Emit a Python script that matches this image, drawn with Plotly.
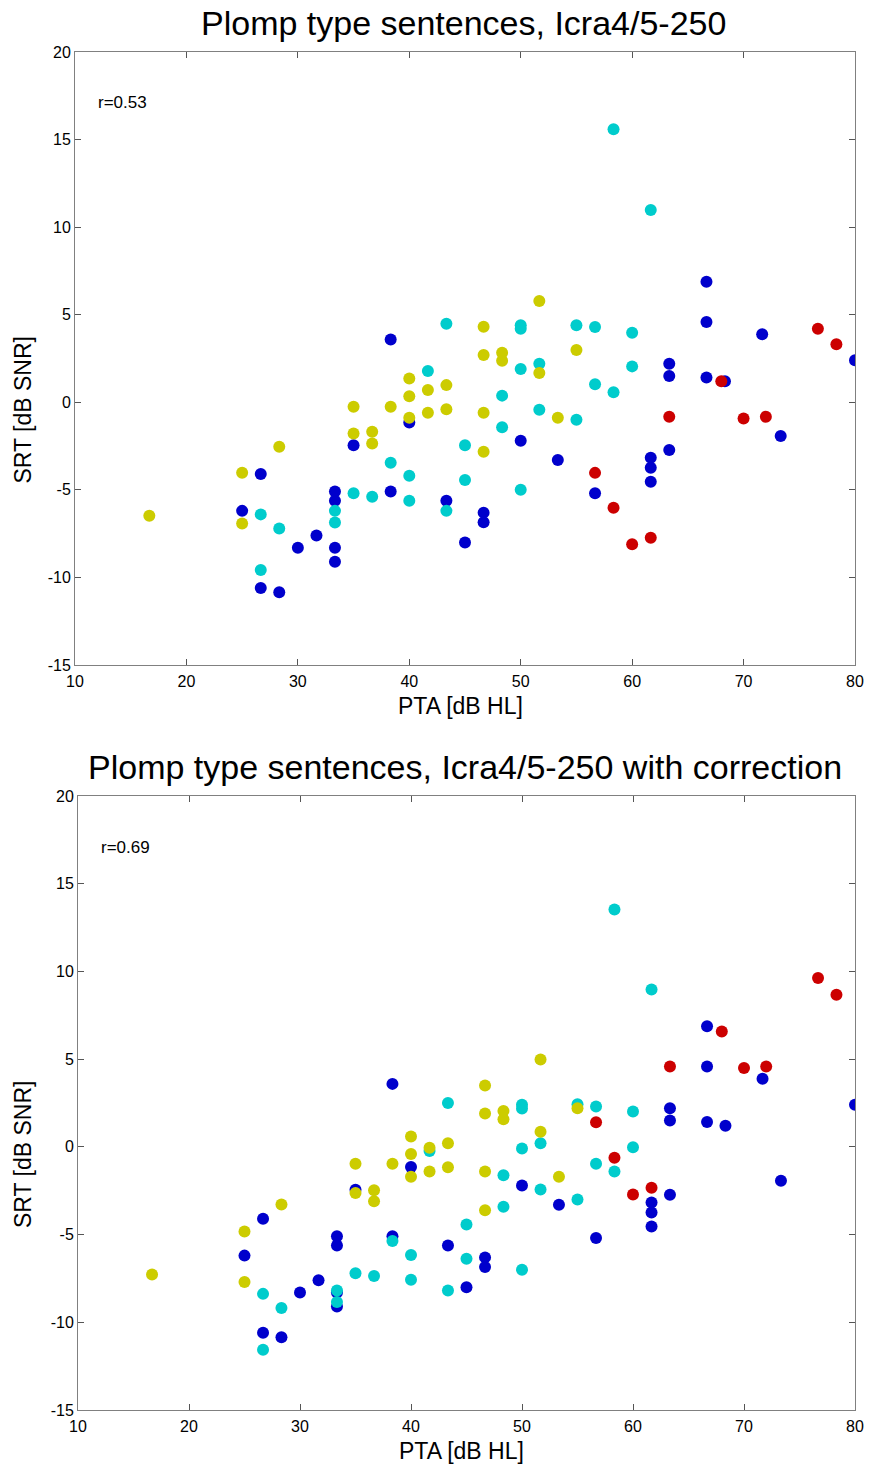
import plotly.graph_objects as go

# ---------------- data ----------------
# Blue group (same values in both panels)
blue_x = [25, 26.67, 26.67, 28.33, 30, 31.67, 33.33, 33.33, 33.33, 33.33, 35, 38.33, 38.33, 40,
          43.33, 45, 46.67, 46.67, 50, 53.33, 56.67, 61.67, 61.67, 61.67, 63.33, 63.33, 63.33,
          66.67, 66.67, 66.67, 68.33, 71.67, 73.33, 80]
blue_y = [-6.2, -4.1, -10.6, -10.85, -8.3, -7.6, -5.1, -5.62, -8.3, -9.1, -2.45, 3.59, -5.1, -1.15,
          -5.62, -8.0, -6.3, -6.85, -2.2, -3.3, -5.2, -3.17, -3.74, -4.54, 2.2, 1.5, -2.73,
          6.88, 4.58, 1.42, 1.2, 3.88, -1.93, 2.4]

# Red group
red_x = [56.67, 58.33, 60, 61.67, 63.33, 68, 70, 72, 76.67, 78.33]
red_y_top = [-4.03, -6.02, -8.1, -7.74, -0.83, 1.2, -0.92, -0.83, 4.2, 3.31]
red_y_bot = [1.4, -0.62, -2.71, -2.33, 4.58, 6.58, 4.49, 4.58, 9.62, 8.67]

# Cyan group
cyan_x = [26.67, 26.67, 28.33, 33.33, 33.33, 35, 36.67, 38.33, 40, 40, 41.67, 43.33, 43.33, 45, 45,
          48.33, 48.33, 50, 50, 50, 50, 51.67, 51.67, 55, 55, 56.67, 56.67, 58.33, 58.33, 60, 60, 61.67]
cyan_y_top = [-6.4, -9.58, -7.2, -6.2, -6.86, -5.2, -5.39, -3.45, -4.2, -5.62, 1.78, 4.48, -6.2, -2.45, -4.44,
              0.38, -1.43, 4.4, 4.2, 1.9, -5.0, 2.2, -0.42, 4.4, -1.0, 4.3, 1.03, 15.59, 0.57, 3.97, 2.05, 10.98]
cyan_y_bot = [-8.38, -11.57, -9.19, -8.19, -8.85, -7.2, -7.36, -5.37, -6.17, -7.57, -0.24, 2.5, -8.19, -4.42, -6.38,
              -1.62, -3.42, 2.4, 2.18, -0.09, -7.0, 0.21, -2.43, 2.43, -3.0, 2.3, -0.96, 13.53, -1.4, 2.02, -0.02, 8.97]

# Yellow group
yellow_x = [16.67, 25, 25, 28.33, 35, 35, 36.67, 36.67, 38.33, 40, 40, 40, 41.67, 41.67, 43.33, 43.33,
            46.67, 46.67, 46.67, 46.67, 48.33, 48.33, 51.67, 51.67, 53.33, 55]
yellow_y_top = [-6.48, -4.02, -6.92, -2.54, -0.26, -1.78, -1.68, -2.35, -0.26, 1.36, 0.35, -0.88, 0.7, -0.6, 0.98, -0.4,
                4.31, 2.7, -0.6, -2.82, 2.83, 2.37, 5.78, 1.67, -0.88, 2.98]
yellow_y_bot = [-7.27, -4.82, -7.71, -3.28, -0.96, -2.63, -2.47, -3.1, -0.96, 0.59, -0.41, -1.71, -0.05, -1.4, 0.21, -1.16,
                3.5, 1.9, -1.4, -3.61, 2.05, 1.58, 4.98, 0.86, -1.71, 2.2]

titles = ["Plomp type sentences, Icra4/5-250", "Plomp type sentences, Icra4/5-250 with correction"]
r_labels = ["r=0.53", "r=0.69"]
x_title = "PTA [dB HL]"
y_title = "SRT [dB SNR]"
x_ticks = [10, 20, 30, 40, 50, 60, 70, 80]
y_ticks = [-15, -10, -5, 0, 5, 10, 15, 20]

# ---------------- figure ----------------
W, H = 869, 1465
ML, MR, MT, MB = 75, 14, 52, 55
IW, IH = W - ML - MR, H - MT - MB

def px(xp):                  # xp: screen pixel in the reference picture
    return (xp - ML) / IW

def py(yp):
    return 1 - (yp - MT) / IH

BLUE, RED, CYAN, YELLOW = "#0000CC", "#CC0000", "#00CCCC", "#CCCC00"
MS = 12
FONT = "Liberation Sans, Arial, sans-serif"

fig = go.Figure()

panels = [
    ("x", "y", red_y_top, cyan_y_top, yellow_y_top),
    ("x2", "y2", red_y_bot, cyan_y_bot, yellow_y_bot),
]
for xa, ya, ry, cy, yy in panels:
    for xs, ys, col in [(blue_x, blue_y, BLUE), (red_x, ry, RED), (cyan_x, cy, CYAN), (yellow_x, yy, YELLOW)]:
        fig.add_trace(go.Scatter(x=xs, y=ys, mode="markers", xaxis=xa, yaxis=ya,
                                 marker=dict(color=col, size=MS, line=dict(width=0)),
                                 showlegend=False, hoverinfo="x+y"))

# pixel geometry of the two plot boxes (reference screen pixels)
boxes = [dict(l=75, r=855, t=52, b=665), dict(l=78, r=855, t=796, b=1410)]

def axis_common():
    return dict(showline=True, linecolor="#808080", linewidth=1, mirror="ticks",
                ticks="inside", ticklen=6, tickcolor="#555555", tickwidth=1,
                showgrid=False, zeroline=False, automargin=False,
                tickfont=dict(family=FONT, size=16, color="#000"))

for i, box in enumerate(boxes):
    suf = "" if i == 0 else "2"
    xax = axis_common()
    xax.update(domain=[px(box["l"]), px(box["r"])], range=[10, 80], anchor="y" + suf,
               tickvals=x_ticks, ticktext=[str(v) for v in x_ticks], ticklabelstandoff=2)
    yax = axis_common()
    yax.update(domain=[py(box["b"]), py(box["t"])], range=[-15, 20], anchor="x" + suf,
               tickvals=y_ticks, ticktext=[str(v) for v in y_ticks])
    fig.layout["xaxis" + suf] = xax
    fig.layout["yaxis" + suf] = yax
    cx = (box["l"] + box["r"]) / 2
    # title
    fig.add_annotation(text=titles[i], xref="paper", yref="paper",
                       x=px(cx - 2), y=py(box["t"] - 29),
                       xanchor="center", yanchor="middle", showarrow=False,
                       font=dict(family=FONT, size=34, color="#000"))
    # x axis title
    fig.add_annotation(text=x_title, xref="paper", yref="paper",
                       x=px(cx - 5), y=py(box["b"] + 41),
                       xanchor="center", yanchor="middle", showarrow=False,
                       font=dict(family=FONT, size=23, color="#000"))
    # y axis title
    fig.add_annotation(text=y_title, xref="paper", yref="paper",
                       x=px(23), y=py((box["t"] + box["b"]) / 2 + 52),
                       xanchor="center", yanchor="middle", showarrow=False, textangle=-90,
                       font=dict(family=FONT, size=23, color="#000"))
    # r label
    fig.add_annotation(text=r_labels[i], xref="paper", yref="paper",
                       x=px(box["l"] + 21), y=py(box["t"] + 51),
                       xanchor="left", yanchor="middle", showarrow=False,
                       font=dict(family=FONT, size=17, color="#000"))

fig.update_layout(width=W, height=H, margin=dict(l=ML, r=MR, t=MT, b=MB, autoexpand=False),
                  paper_bgcolor="white", plot_bgcolor="white",
                  font=dict(family=FONT, color="#000"))

fig.write_html("out.html", config={"displayModeBar": False},
               post_script="document.body.style.margin='0';document.body.style.overflow='hidden';")
